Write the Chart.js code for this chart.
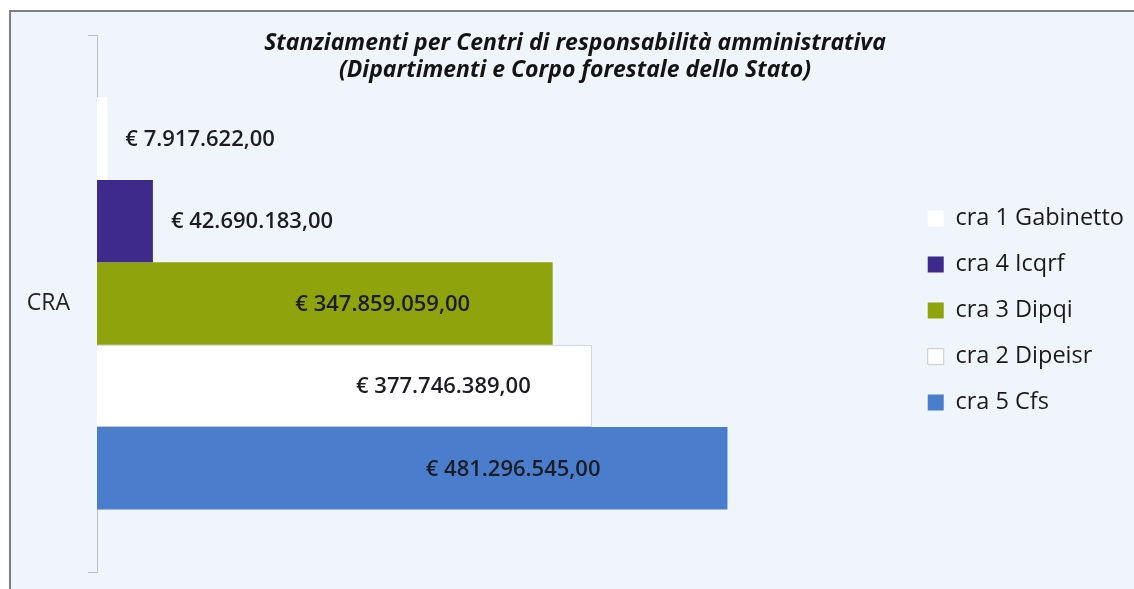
<!DOCTYPE html>
<html>
<head>
<meta charset="utf-8">
<script src="https://cdn.jsdelivr.net/npm/chart.js@4"></script>
<style>
  html, body { margin: 0; padding: 0; background: #ffffff; }
  .frame {
    position: absolute; left: 9px; top: 10px; right: 0; bottom: 0;
    border-left: 2px solid #7d7f84; border-top: 2px solid #7d7f84;
    background: #f0f5fb;
  }
  #craChart { position: absolute; left: 0; top: 0; }
</style>
</head>
<body>
<div class="frame"></div>
<canvas id="craChart" width="1134" height="589"></canvas>
<script>
// ===== Stanziamenti per CRA (euro) =====
const categories = ["CRA"];
const seriesNames = ["cra 1 Gabinetto", "cra 4 Icqrf", "cra 3 Dipqi", "cra 2 Dipeisr", "cra 5 Cfs"];
const seriesValues = [7917622.00, 42690183.00, 347859059.00, 377746389.00, 481296545.00];

const titleLines = [
  "Stanziamenti per Centri di responsabilità amministrativa",
  "(Dipartimenti e Corpo forestale dello Stato)"
];

// colours / label placement per series
const barColors = ["#ffffff", "#3e2a8a", "#8ea30c", "#ffffff", "#4a7ecc"];
const barBorders = ["#ffffff", "#3e2a8a", "#8ea30c", "#c3c8d1", "#4a7ecc"];
const barBorderWidths = [0, 0, 0, 1, 0];
// "end" = just past the bar end, number = fraction of the value along the bar
const labelPlacement = ["end", "end", 0.627, 0.70, 0.66];

function euro(v) {
  const parts = v.toFixed(2).split(".");
  const intPart = parts[0].replace(/\B(?=(\d{3})+(?!\d))/g, ".");
  return "€ " + intPart + "," + parts[1];
}

const FONT = "'Open Sans', 'Noto Sans', sans-serif";

// ===== title drawn over the plot (it overlaps the axis range) =====
const titlePlugin = {
  id: "overTitle",
  afterDraw(chart) {
    const ctx = chart.ctx;
    ctx.save();
    ctx.font = "italic bold 23px " + FONT;
    ctx.fillStyle = "#141414";
    ctx.textAlign = "center";
    ctx.textBaseline = "middle";
    ctx.fillText(titleLines[0], 575, 43);
    ctx.fillText(titleLines[1], 575, 70);
    ctx.restore();
  }
};

// ===== value labels =====
const valueLabels = {
  id: "valueLabels",
  afterDatasetsDraw(chart) {
    const ctx = chart.ctx;
    const xScale = chart.scales.x;
    ctx.save();
    ctx.font = "600 22px " + FONT;
    ctx.fillStyle = "#1c1c24";
    ctx.textBaseline = "middle";
    chart.data.datasets.forEach((ds, i) => {
      const meta = chart.getDatasetMeta(i);
      meta.data.forEach((bar, j) => {
        const v = ds.data[j];
        const place = labelPlacement[i];
        if (place === "end") {
          ctx.textAlign = "left";
          ctx.fillText(euro(v), bar.x + 18, bar.y + 1);
        } else {
          ctx.textAlign = "center";
          ctx.fillText(euro(v), xScale.getPixelForValue(v * place), bar.y + 1);
        }
      });
    });
    ctx.restore();
  }
};

const datasets = seriesNames.map((name, i) => ({
  label: name,
  data: [seriesValues[i]],
  backgroundColor: barColors[i],
  borderColor: barBorders[i],
  borderWidth: barBorderWidths[i],
  categoryPercentage: 0.767,
  barPercentage: 1.0
}));

new Chart(document.getElementById("craChart"), {
  type: "bar",
  data: { labels: categories, datasets: datasets },
  options: {
    indexAxis: "y",
    responsive: false,
    animation: false,
    layout: { padding: { top: 35, bottom: 17, left: 0, right: 0 } },
    plugins: {
      legend: {
        position: "right",
        align: "center",
        // empty title only nudges the items down a little
        title: { display: true, text: "", font: { size: 1 }, padding: { top: 0, bottom: 13 } },
        labels: {
          boxWidth: 16,
          boxHeight: 16,
          padding: 22.5,
          color: "#1a1a1a",
          font: { family: FONT, size: 23.5 }
        }
      },
      tooltip: { enabled: false }
    },
    scales: {
      x: {
        display: false,
        min: 0,
        max: 617000000
      },
      y: {
        afterFit(scale) {
          scale.width = 97;
          scale.paddingTop = 0;
          scale.paddingBottom = 0;
        },
        grid: {
          drawOnChartArea: false,
          drawTicks: true,
          tickLength: 9,
          color: "#b9bec7"
        },
        border: { display: true, color: "#b9bec7", width: 1 },
        ticks: {
          padding: 18,
          color: "#222222",
          font: { family: FONT, size: 23 }
        }
      }
    }
  },
  plugins: [valueLabels, titlePlugin]
});
</script>
</body>
</html>
